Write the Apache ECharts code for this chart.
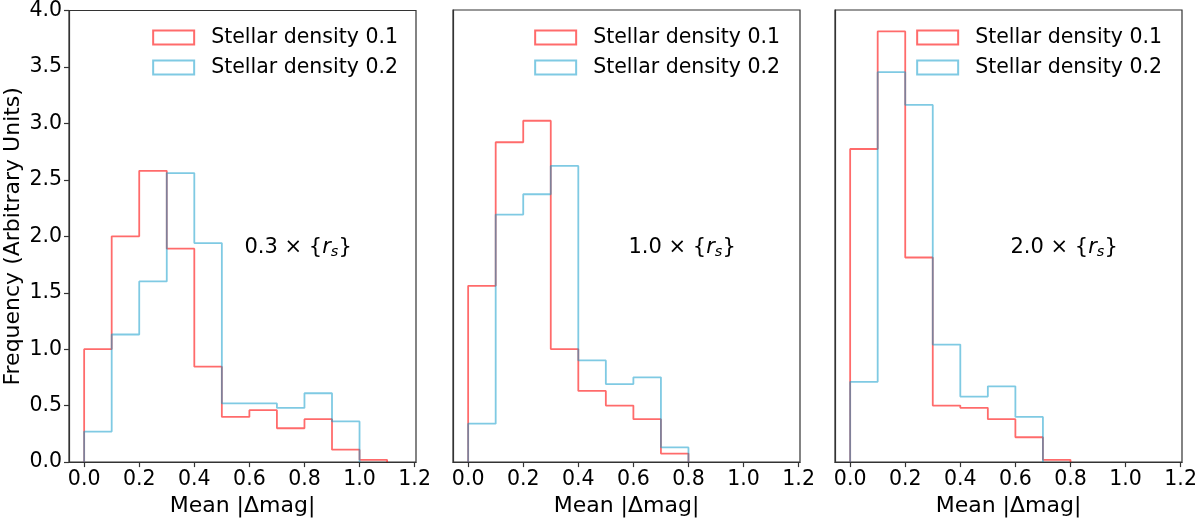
<!DOCTYPE html>
<html>
<head>
<meta charset="utf-8">
<script src="https://cdn.jsdelivr.net/npm/echarts@6/dist/echarts.min.js"></script>
<style>
  html, body { margin: 0; padding: 0; background: #fff; }
  #chart { width: 1200px; height: 522px; }
</style>
</head>
<body>
<div id="chart"></div>
<script>
// bin left edges, width 0.1
const binEdges = [0.0, 0.1, 0.2, 0.3, 0.4, 0.5, 0.6, 0.7, 0.8, 0.9, 1.0, 1.1];
const xTicks = [0.0, 0.2, 0.4, 0.6, 0.8, 1.0, 1.2];
const seriesNames = ["Stellar density 0.1", "Stellar density 0.2"];
const panelLabels = ["0.3", "1.0", "2.0"];

// panel 1 : 0.3 x r_s
const p1Density01 = [1.0, 2.0, 2.58, 1.89, 0.845, 0.40, 0.46, 0.30, 0.38, 0.11, 0.02];
const p1Density02 = [0.27, 1.13, 1.60, 2.56, 1.94, 0.52, 0.52, 0.48, 0.61, 0.36];
// panel 2 : 1.0 x r_s
const p2Density01 = [1.56, 2.83, 3.02, 1.0, 0.63, 0.50, 0.38, 0.075];
const p2Density02 = [0.34, 2.19, 2.37, 2.62, 0.90, 0.69, 0.75, 0.13];
// panel 3 : 2.0 x r_s
const p3Density01 = [2.77, 3.81, 1.81, 0.50, 0.48, 0.38, 0.22, 0.02];
const p3Density02 = [0.71, 3.45, 3.16, 1.04, 0.58, 0.67, 0.40];

const panels = [
  [p1Density01, p1Density02],
  [p2Density01, p2Density02],
  [p3Density01, p3Density02]
];

const colors = ["rgba(255,0,0,0.58)", "rgba(0,150,200,0.5)"];
const FONT = "DejaVu Sans";
const FS = 20.5;
const FS_NAME = 22;

// step outline like matplotlib histtype='step'
function stepData(vals) {
  let pts = [[binEdges[0], 0]];
  vals.forEach((v, i) => pts.push([binEdges[i], v]));
  pts.push([binEdges[vals.length], 0]);
  return pts;
}

const gridLefts = [69, 453, 835];
const gridW = 347;

let myChart = echarts.init(document.getElementById("chart"));

let grids = [], xAxes = [], yAxes = [], series = [], legends = [], graphics = [];
const legendRights = [802, 420, 38];

gridLefts.forEach((left, p) => {
  grids.push({
    left: left, top: 10, width: gridW, height: 454,
    show: true, borderColor: "#333", borderWidth: 1.2, backgroundColor: "#fff"
  });
  xAxes.push({
    type: "value", gridIndex: p, min: -0.055, max: 1.205,
    name: "Mean |Δmag|", nameLocation: "middle", nameGap: 30,
    nameTextStyle: { fontFamily: FONT, fontSize: FS_NAME, color: "#000" },
    axisLine: { onZero: false, lineStyle: { color: "#333", width: 1.2 } },
    axisTick: { customValues: xTicks, length: 5, lineStyle: { color: "#333", width: 1.2 } },
    axisLabel: {
      customValues: xTicks, margin: 7, color: "#000",
      fontFamily: FONT, fontSize: FS,
      formatter: v => v.toFixed(1)
    },
    splitLine: { show: false }
  });
  yAxes.push({
    type: "value", gridIndex: p, min: 0, max: 4, interval: 0.5,
    name: p === 0 ? "Frequency (Arbitrary Units)" : "",
    nameLocation: "middle", nameGap: 45,
    nameTextStyle: { fontFamily: FONT, fontSize: FS_NAME, color: "#000" },
    axisLine: { show: true, onZero: false, lineStyle: { color: "#333", width: 1.2 } },
    axisTick: { show: p === 0, length: 5, lineStyle: { color: "#333", width: 1.2 } },
    axisLabel: {
      show: p === 0, margin: 7, color: "#000",
      fontFamily: FONT, fontSize: FS,
      formatter: v => v.toFixed(1)
    },
    splitLine: { show: false }
  });
  panels[p].forEach((vals, k) => {
    series.push({
      name: seriesNames[k], type: "line", step: "end",
      xAxisIndex: p, yAxisIndex: p,
      showSymbol: false, symbol: "none", silent: true,
      lineStyle: { color: colors[k], width: 1.8 },
      itemStyle: { color: colors[k] },
      data: stepData(vals)
    });
  });
  legends.push({
    orient: "vertical", right: legendRights[p], top: 27, padding: 0,
    itemWidth: 41, itemHeight: 14, itemGap: 9,
    selectedMode: false,
    textStyle: { fontFamily: FONT, fontSize: FS, color: "#000", padding: [0, 0, 0, 12] },
    data: seriesNames.map((n, k) => ({
      name: n, icon: "rect",
      itemStyle: { color: "rgba(0,0,0,0)", borderColor: colors[k], borderWidth: 2 }
    }))
  });
  graphics.push({
    type: "text", left: left + gridW / 2 + 2, top: 237,
    style: {
      text: panelLabels[p] + " × {{r|r}{s|s}}",
      fontFamily: FONT, fontSize: 21, fill: "#000",
      rich: {
        r: { fontFamily: FONT, fontSize: 21, fontStyle: "italic", fill: "#000" },
        s: { fontFamily: FONT, fontSize: 14.5, fontStyle: "italic", fill: "#000", padding: [10, 0, 0, 0] }
      }
    }
  });
});

let option = {
  backgroundColor: "#fff",
  animation: false,
  grid: grids,
  xAxis: xAxes,
  yAxis: yAxes,
  legend: legends,
  graphic: graphics,
  series: series
};
myChart.setOption(option);
</script>
</body>
</html>
